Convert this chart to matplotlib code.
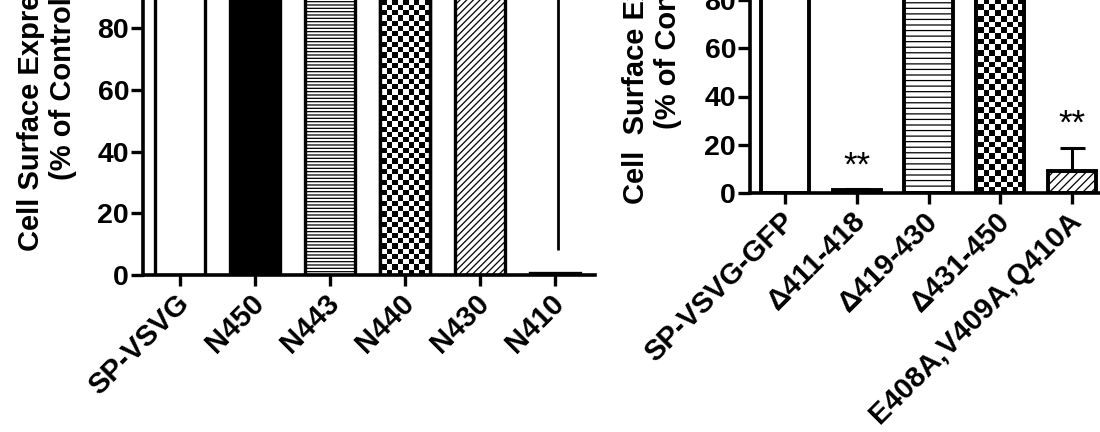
import numpy as np
import matplotlib
matplotlib.use("Agg")
import matplotlib.pyplot as plt
import matplotlib.transforms as mtransforms

plt.rcParams['font.family'] = ['Liberation Sans', 'DejaVu Sans']
plt.rcParams['font.weight'] = 'bold'
plt.rcParams['hatch.linewidth'] = 0.9

# ---------------- data ----------------
left_labels = ["SP-VSVG", "N450", "N443", "N440", "N430", "N410"]
left_values = [100, 100, 100, 100, 100, 0.5]
left_patterns = ["open", "solid", "hlines", "checker", "diag", "open"]
left_line_x = 5          # category index of the stray vertical line
left_line_range = (8, 100)

right_labels = ["SP-VSVG-GFP", "\u0394411-418", "\u0394419-430", "\u0394431-450",
                "E408A,V409A,Q410A"]
right_values = [100, 1.2, 100, 100, 9.2]
right_errors = [0, 0.4, 0, 0, 9.6]
right_patterns = ["open", "open", "hlines", "checker", "diag"]
right_stars = ["", "**", "", "", "**"]

yticks = [0, 20, 40, 60, 80]
ylabel_left = "Cell Surface Expression\n(% of Control)"
ylabel_right = "Cell  Surface Expression\n(% of Control)"

W, H = 1100, 432
fig = plt.figure(figsize=(W / 100, H / 100), dpi=100)


def px_axes(x0, x1, ytop, ybot):
    return fig.add_axes([x0 / W, 1 - ybot / H, (x1 - x0) / W, (ybot - ytop) / H])


def style_axes(ax, spine_lw):
    for s in ["top", "right"]:
        ax.spines[s].set_visible(False)
    for s in ["left", "bottom"]:
        ax.spines[s].set_linewidth(spine_lw)
    ax.tick_params(axis="y", length=9, width=2.4, pad=1, labelsize=20.5)
    ax.tick_params(axis="x", length=8, width=2.4, pad=2, labelsize=21)
    off = mtransforms.ScaledTranslation(-5 / 100, 0, fig.dpi_scale_trans)
    for lab in ax.get_xticklabels():
        lab.set_transform(lab.get_transform() + off)


def draw_bars(ax, values, patterns, lw, hdens, sq, axw, axh):
    x = np.arange(len(values))
    for i, (v, p) in enumerate(zip(values, patterns)):
        fc = "black" if p == "solid" else "white"
        hatch = {"hlines": "-" * hdens[0], "diag": "/" * hdens[1]}.get(p, None)
        b = ax.bar(x[i], v, width=0.67, facecolor=fc, edgecolor="black",
                   linewidth=lw, hatch=hatch, zorder=2)[0]
        if p == "checker":
            nc = int(np.ceil(axw / sq)) + 1
            nr = int(np.ceil(axh / sq)) + 1
            board = (np.add.outer(np.arange(nr), np.arange(nc)) % 2).astype(float)
            im = ax.imshow(board, cmap="gray", interpolation="nearest",
                           extent=(0, nc * sq / axw, 0, nr * sq / axh),
                           transform=ax.transAxes, aspect="auto", zorder=2.5,
                           origin="lower")
            im.set_clip_path(b)
            ax.bar(x[i], v, width=0.67, fill=False, edgecolor="black",
                   linewidth=lw, zorder=3)
    return x


# ---------------- left panel ----------------
axL = px_axes(143, 595, 0, 275)
xl = draw_bars(axL, left_values, left_patterns, 2.4, (5, 5), 5.3, 452, 275)
axL.vlines(left_line_x + 0.04, *left_line_range, color="black", linewidth=2.0, zorder=3)
axL.set_xlim(-0.493, 5.533)
axL.set_ylim(0, 89.07)
axL.set_yticks(yticks)
axL.set_xticks(xl)
axL.set_xticklabels(left_labels, rotation=45, ha="right", va="top",
                    rotation_mode="anchor")
style_axes(axL, 2.6)

# ---------------- right panel ----------------
axR = px_axes(750, 1100, 0, 193)
xr = draw_bars(axR, right_values, right_patterns, 2.8, (3, 4), 5.7, 350, 193)
for i, (v, e) in enumerate(zip(right_values, right_errors)):
    if e > 0:
        axR.errorbar(xr[i], v, yerr=[[0], [e]], fmt="none", ecolor="black",
                     elinewidth=2.2, capsize=9, capthick=2.2, zorder=4)
for i, (v, e, s) in enumerate(zip(right_values, right_errors, right_stars)):
    if s:
        axR.annotate(s, xy=(xr[i], v + e), xytext=(0, 10), textcoords="offset points",
                     ha="center", va="baseline", fontsize=25, fontweight="normal")
axR.set_xlim(-0.488, 4.39)
axR.set_ylim(0, 77.2)
axR.set_yticks(yticks)
axR.set_xticks(xr)
axR.set_xticklabels(right_labels, rotation=45, ha="right", va="top",
                    rotation_mode="anchor")
style_axes(axR, 2.6)

# ---------------- y labels ----------------
fig.text(47 / W, 1 - 84 / H, ylabel_left, rotation=90, ha="center", va="center",
         multialignment="center", fontsize=21, fontweight="bold", linespacing=1.2)
fig.text(652 / W, 1 - 33 / H, ylabel_right, rotation=90, ha="center", va="center",
         multialignment="center", fontsize=21, fontweight="bold", linespacing=1.2)

fig.savefig("out.png", dpi=100)
